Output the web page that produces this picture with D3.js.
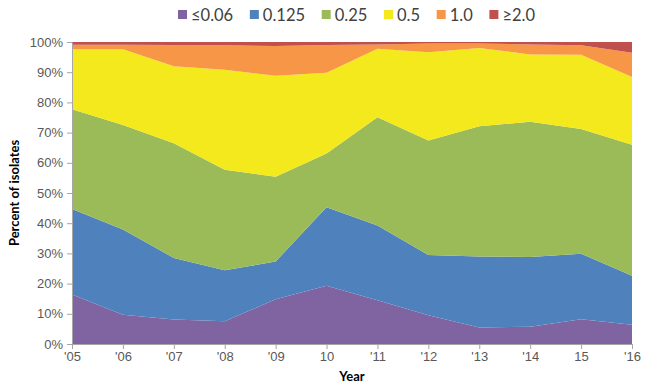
<!DOCTYPE html>
<html>
<head>
<meta charset="utf-8">
<script src="https://cdn.jsdelivr.net/npm/d3@7/dist/d3.min.js"></script>
<style>
  html, body { margin: 0; padding: 0; background: #fff; }
  svg { display: block; font-family: Lato, "Open Sans", sans-serif; }
</style>
</head>
<body>
<svg id="chart" width="651" height="387"></svg>
<script>
// Survey years and their axis labels
const years = ["2005","2006","2007","2008","2009","2010","2011","2012","2013","2014","2015","2016"];
const yearLabels = ["'05","'06","'07","'08","'09","10","'11","'12","'13","'14","15","'16"];

// MIC categories (stack order, bottom to top)
const categories = ["≤0.06", "0.125", "0.25", "0.5", "1.0", "≥2.0"];
const colors = ["#8064A2", "#4F81BD", "#9BBB59", "#F3E91C", "#F79646", "#C0504D"];

// Percent of isolates per category, per year
const micLe006 = [16.4, 9.7, 8.1, 7.5, 14.8, 19.3, 14.5, 9.5, 5.5, 5.7, 8.2, 6.4];
const mic0125  = [28.3, 28.2, 20.4, 16.9, 12.5, 26.0, 24.7, 20.0, 23.5, 23.1, 21.7, 16.2];
const mic025   = [33.0, 34.6, 38.0, 33.3, 28.1, 17.8, 35.9, 37.9, 43.1, 44.8, 41.3, 43.4];
const mic05    = [19.9, 25.1, 25.5, 33.1, 33.4, 26.7, 22.7, 29.2, 25.9, 22.3, 24.6, 22.4];
const mic10    = [1.5, 1.5, 7.0, 8.1, 9.9, 9.2, 1.4, 2.9, 1.5, 3.3, 3.1, 8.0];
const micGe20  = [0.9, 0.9, 1.0, 1.1, 1.3, 1.0, 0.8, 0.5, 0.5, 0.8, 1.1, 3.6];

const yTicks = [0, 10, 20, 30, 40, 50, 60, 70, 80, 90, 100];

const seriesValues = [micLe006, mic0125, mic025, mic05, mic10, micGe20];
const rows = years.map((y, i) => {
  const r = { year: y };
  categories.forEach((c, k) => { r[c] = seriesValues[k][i]; });
  return r;
});

const svg = d3.select("#chart");
const margin = { left: 72, right: 19, top: 42, bottom: 43 };
const W = 651, H = 387;

const x = d3.scalePoint().domain(years).range([margin.left, W - margin.right]);
const y = d3.scaleLinear().domain([0, 100]).range([H - margin.bottom, margin.top]);

const layers = d3.stack().keys(categories)(rows);

const area = d3.area()
  .x(d => x(d.data.year))
  .y0(d => y(d[0]))
  .y1(d => y(d[1]));

svg.append("g").selectAll("path")
  .data(layers)
  .join("path")
  .attr("d", area)
  .attr("fill", (d, i) => colors[i]);

// Y axis
const yAxis = svg.append("g")
  .attr("transform", `translate(${margin.left},0)`)
  .call(d3.axisLeft(y).tickValues(yTicks).tickFormat(d => d + "%").tickSize(5).tickSizeOuter(0));
yAxis.select(".domain").attr("stroke", "#a6a6a6");
yAxis.selectAll(".tick line").attr("stroke", "#a6a6a6");
yAxis.selectAll(".tick text").attr("fill", "#595959").attr("font-size", 13).attr("x", -9);

// X axis
const xAxis = svg.append("g")
  .attr("transform", `translate(0,${y(0)})`)
  .call(d3.axisBottom(x).tickFormat((d, i) => yearLabels[i]).tickSize(5).tickSizeOuter(0));
xAxis.select(".domain").attr("stroke", "#a6a6a6");
xAxis.selectAll(".tick line").attr("stroke", "#a6a6a6");
xAxis.selectAll(".tick text").attr("fill", "#595959").attr("font-size", 13).attr("y", 8);

// Axis titles
svg.append("text")
  .attr("x", (margin.left + W - margin.right) / 2)
  .attr("y", 381)
  .attr("text-anchor", "middle")
  .attr("font-size", 13)
  .attr("font-weight", "bold")
  .attr("fill", "#000")
  .text("Year");

svg.append("text")
  .attr("transform", `translate(19,${(y(0) + y(100)) / 2}) rotate(-90)`)
  .attr("text-anchor", "middle")
  .attr("font-size", 13)
  .attr("font-weight", "bold")
  .attr("fill", "#000")
  .text("Percent of isolates");

// Legend: laid out left to right from measured label widths
const legendLeft = 178, legendRight = 535, swatch = 9, swatchGap = 4;
const legend = svg.append("g").attr("transform", "translate(0,15)");
const lg = legend.selectAll("g").data(categories).join("g");
lg.append("rect")
  .attr("x", 0).attr("y", -5)
  .attr("width", swatch).attr("height", swatch)
  .attr("fill", (d, i) => colors[i]);
const labels = lg.append("text")
  .attr("x", swatch + swatchGap).attr("y", 5.5)
  .attr("font-size", 16.5)
  .attr("fill", "#404040")
  .text(d => d);
const widths = labels.nodes().map(n => n.getComputedTextLength() + swatch + swatchGap);
const gap = (legendRight - legendLeft - d3.sum(widths)) / (categories.length - 1);
let cursor = legendLeft;
lg.attr("transform", (d, i) => {
  const t = `translate(${cursor},0)`;
  cursor += widths[i] + gap;
  return t;
});
</script>
</body>
</html>
